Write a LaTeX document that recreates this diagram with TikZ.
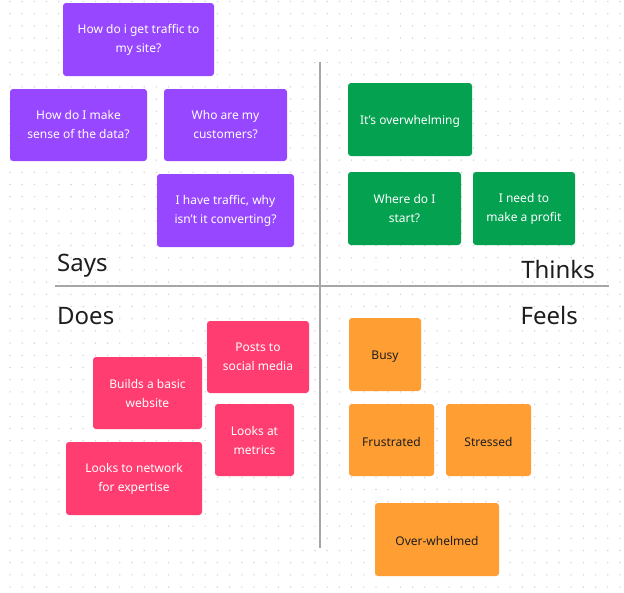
\documentclass[tikz,border=0pt]{standalone}
\usepackage{fontspec}
\setmainfont{Noto Sans}
\usepackage{xcolor}
\usepackage{tikz}
\usetikzlibrary{
  positioning,
  backgrounds
}
\definecolor{emSays}{HTML}{9747FF}
\definecolor{emThinks}{HTML}{03A150}
\definecolor{emDoes}{HTML}{FF3D71}
\definecolor{emFeels}{HTML}{FF9E33}
\definecolor{emInk}{HTML}{1E1E1E}
\definecolor{emAxis}{HTML}{A6A6A6}
\definecolor{emDot}{HTML}{D4D4D4}
\tikzset{
  sticky/.style={
    rounded corners=3pt, inner sep=0pt, align=center,
    font=\fontsize{12}{19}\selectfont,
    execute at begin node={\rule{0pt}{12.5pt}}
  },
  notesize/.style 2 args={minimum width=#1pt, minimum height=#2pt},
  says/.style={sticky, fill=emSays, text=white},
  thinks/.style={sticky, fill=emThinks, text=white},
  does/.style={sticky, fill=emDoes, text=white},
  feels/.style={sticky, fill=emFeels, text=emInk},
  quadrant/.style={font=\fontsize{24}{28}\selectfont, text=emInk, inner sep=0pt},
  axisline/.style={draw=emAxis, line width=2pt},
  griddot/.style={fill=emDot}
}

\begin{document}
\begin{tikzpicture}[x=1pt, y=-1pt]
  \useasboundingbox (0,0) rectangle (624,592);
  \fill[white] (0,0) rectangle (624,592);
  \foreach \i in {0,...,50} {
    \foreach \j in {0,...,48} {
      \fill[griddot] (10+12.2*\i, 1.5+12.2*\j) circle (0.8pt);
    }
  }

  \coordinate (vtop) at (319.5,62);
  \coordinate (vbot) at (319.5,548);
  \coordinate (hleft) at (55,285.5);
  \coordinate (hright) at (609,285.5);
  \draw[axisline] (vtop) -- (vbot);
  \draw[axisline] (hleft) -- (hright);

  \node[quadrant, anchor=base west] (saystitle) at (57,271) {Says};
  \node[quadrant, anchor=base east] (thinkstitle) at (595,278) {Thinks};
  \node[quadrant, anchor=base west] (doestitle) at (57,324) {Does};
  \node[quadrant, anchor=base east] (feelstitle) at (578,324) {Feels};

  \node[says, notesize={151}{73}] (traffic) at (138.5,39.5) {How do i get traffic to\\my site?};
  \node[says, notesize={137}{72}] (data) at (78.5,125) {How do I make\\sense of the data?};
  \node[says, notesize={123}{72}] (customers) at (225.5,125) {Who are my\\customers?};
  \node[says, notesize={137}{73}] (converting) at (225.5,210.5) {I have traffic, why\\isn't it converting?};

  \node[thinks, notesize={124}{73}] (overwhelming) at (410,119.5) {It's overwhelming};
  \node[thinks, notesize={113}{73}] (start) at (404.5,208.5) {Where do I\\start?};
  \node[thinks, notesize={102}{73}] (profit) at (524,208.5) {I need to\\make a profit};

  \node[does, notesize={102}{72}] (social) at (258,357) {Posts to\\social media};
  \node[does, notesize={109}{72}] (website) at (147.5,393) {Builds a basic\\website};
  \node[does, notesize={79}{72}] (metrics) at (254.5,440) {Looks at\\metrics};
  \node[does, notesize={136}{73}] (network) at (134,478.5) {Looks to network\\for expertise};

  \node[feels, notesize={72}{73}] (busy) at (385,354.5) {Busy};
  \node[feels, notesize={85}{72}] (frustrated) at (391.5,440) {Frustrated};
  \node[feels, notesize={85}{72}] (stressed) at (488.5,440) {Stressed};
  \node[feels, notesize={124}{73}] (overwhelmed) at (437,539.5) {Over-whelmed};
\end{tikzpicture}
\end{document}
